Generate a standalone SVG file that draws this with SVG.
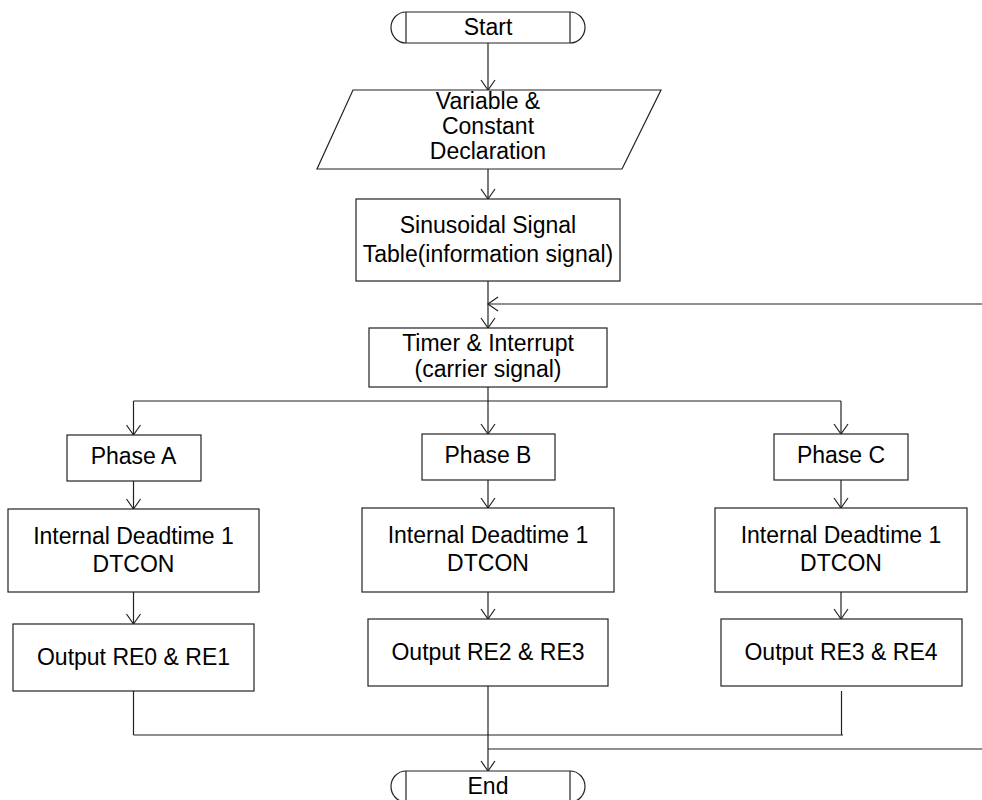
<svg xmlns="http://www.w3.org/2000/svg" width="982" height="800" viewBox="0 0 982 800">
<style>
.box{fill:#fff;stroke:#222;stroke-width:1.2}
.ln{fill:none;stroke:#222;stroke-width:1.2}
.arr{fill:none;stroke:#222;stroke-width:1.2;marker-end:url(#ah)}
text{font-family:"Liberation Sans",Arial,sans-serif;font-size:23px;fill:#000;text-anchor:middle}
</style>
<defs>
<marker id="ah" markerUnits="userSpaceOnUse" orient="auto" refX="10" refY="7" markerWidth="12" markerHeight="14" viewBox="0 0 12 14" overflow="visible">
<path d="M0,0 L10,7 L0,14" fill="none" stroke="#222" stroke-width="1.2"/>
</marker>
</defs>
<rect width="982" height="800" fill="#fff"/>
<g id="connectors">
<line class="arr" x1="488" y1="43" x2="488" y2="90"/>
<line class="arr" x1="488" y1="169" x2="488" y2="199"/>
<line class="arr" x1="488" y1="281" x2="488" y2="328"/>
<line class="arr" x1="982" y1="304" x2="488" y2="304"/>
<line class="ln" x1="488" y1="387" x2="488" y2="401"/>
<line class="ln" x1="133.5" y1="401" x2="841" y2="401"/>
<line class="arr" x1="133.5" y1="401" x2="133.5" y2="435"/>
<line class="arr" x1="488" y1="401" x2="488" y2="434"/>
<line class="arr" x1="841" y1="401" x2="841" y2="434"/>
<line class="arr" x1="133.5" y1="481" x2="133.5" y2="509"/>
<line class="arr" x1="488" y1="480" x2="488" y2="508"/>
<line class="arr" x1="841" y1="480" x2="841" y2="508"/>
<line class="arr" x1="133.5" y1="592" x2="133.5" y2="624"/>
<line class="arr" x1="488" y1="592" x2="488" y2="619"/>
<line class="arr" x1="841" y1="592" x2="841" y2="619"/>
<line class="ln" x1="133.5" y1="691" x2="133.5" y2="735"/>
<line class="ln" x1="841.5" y1="691" x2="841.5" y2="735"/>
<line class="ln" x1="133.5" y1="735" x2="843" y2="735"/>
<line class="arr" x1="488" y1="686" x2="488" y2="771"/>
<line class="ln" x1="488" y1="749" x2="982" y2="749"/>
</g>
<g id="start">
<path class="box" d="M406,12 H570 A15,15.5 0 0 1 570,43 H406 A15,15.5 0 0 1 406,12 Z"/>
<line class="ln" x1="406" y1="12" x2="406" y2="43"/>
<line class="ln" x1="570" y1="12" x2="570" y2="43"/>
<text x="488" y="35">Start</text>
</g>
<g id="declaration">
<polygon class="box" points="353,90 661,90 622,169 317,169"/>
<text x="488" y="109">Variable &amp;</text>
<text x="488" y="134">Constant</text>
<text x="488" y="159">Declaration</text>
</g>
<g id="sinusoidal">
<rect class="box" x="356" y="199" width="264" height="82"/>
<text x="488" y="233">Sinusoidal Signal</text>
<text x="488" y="262">Table(information signal)</text>
</g>
<g id="timer">
<rect class="box" x="369" y="328" width="238" height="59"/>
<text x="488" y="351">Timer &amp; Interrupt</text>
<text x="488" y="377">(carrier signal)</text>
</g>
<g id="phaseA">
<rect class="box" x="67" y="435" width="134" height="46"/>
<text x="133.5" y="464">Phase A</text>
</g>
<g id="phaseB">
<rect class="box" x="422" y="434" width="133" height="46"/>
<text x="488" y="463">Phase B</text>
</g>
<g id="phaseC">
<rect class="box" x="774" y="434" width="134" height="46"/>
<text x="841" y="463">Phase C</text>
</g>
<g id="deadtimeA">
<rect class="box" x="8" y="509" width="251" height="83"/>
<text x="133.5" y="544">Internal Deadtime 1</text>
<text x="133.5" y="572">DTCON</text>
</g>
<g id="deadtimeB">
<rect class="box" x="362" y="508" width="252" height="84"/>
<text x="488" y="543">Internal Deadtime 1</text>
<text x="488" y="571">DTCON</text>
</g>
<g id="deadtimeC">
<rect class="box" x="715" y="508" width="252" height="84"/>
<text x="841" y="543">Internal Deadtime 1</text>
<text x="841" y="571">DTCON</text>
</g>
<g id="outputA">
<rect class="box" x="13" y="624" width="241" height="67"/>
<text x="133.5" y="665">Output RE0 &amp; RE1</text>
</g>
<g id="outputB">
<rect class="box" x="368" y="619" width="240" height="67"/>
<text x="488" y="660">Output RE2 &amp; RE3</text>
</g>
<g id="outputC">
<rect class="box" x="721" y="619" width="241" height="67"/>
<text x="841" y="660">Output RE3 &amp; RE4</text>
</g>
<g id="end">
<path class="box" d="M406,771 H570 A15,15.5 0 0 1 570,802 H406 A15,15.5 0 0 1 406,771 Z"/>
<line class="ln" x1="406" y1="771" x2="406" y2="802"/>
<line class="ln" x1="570" y1="771" x2="570" y2="802"/>
<text x="488" y="794">End</text>
</g>
</svg>
